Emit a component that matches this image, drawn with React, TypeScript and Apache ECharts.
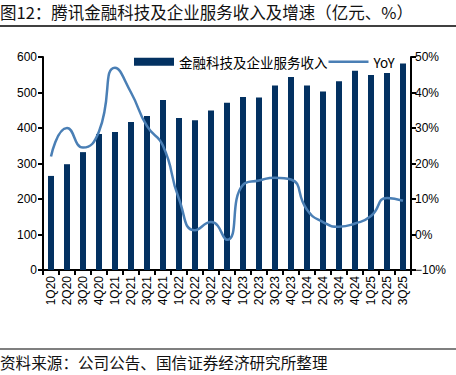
import React, { useEffect, useRef } from "react";
import * as echarts from "echarts";

const categories = ["1Q20","2Q20","3Q20","4Q20","1Q21","2Q21","3Q21","4Q21","1Q22","2Q22","3Q22","4Q22","1Q23","2Q23","3Q23","4Q23","1Q24","2Q24","3Q24","4Q24","1Q25","2Q25","3Q25"];
const revenue = [265, 298, 332, 383, 389, 417, 434, 479, 428, 422, 449, 471, 487, 486, 520, 544, 520, 503, 532, 561, 549, 555, 582];
const yoy = [22, 30, 24.5, 29, 47, 40, 30.5, 25, 10, 1.2, 3.5, -1.5, 14, 15.2, 16, 15.5, 7, 3.5, 2.2, 3.1, 5.2, 10.3, 9.5];
const leftTicks = [0, 600, 100];
const rightTicks = [-10, 50, 10];

const titleText = "图12：腾讯金融科技及企业服务收入及增速（亿元、%）";
const sourceText = "资料来源：公司公告、国信证券经济研究所整理";
const barName = "金融科技及企业服务收入";
const lineName = "YoY";

export default function App() {
  const ref = useRef<HTMLDivElement>(null);
  useEffect(() => {
    if (!ref.current) return;
    const chart = echarts.init(ref.current, null, { renderer: "svg" });
    const font = "Arial, 'Liberation Sans', 'Noto Sans CJK SC', sans-serif";
    const cjk = "'Noto Sans CJK SC', sans-serif";
    chart.setOption({
      animation: false,
      backgroundColor: "#fff",
      textStyle: { fontFamily: font },
      grid: { left: 43, right: 45, top: 57, bottom: 105 },
      legend: {
        left: 129,
        top: 50,
        itemWidth: 40,
        itemHeight: 8,
        itemGap: 1,
        textStyle: { fontSize: 13.5, color: "#000", fontFamily: cjk },
        data: [
          { name: barName, icon: "rect" },
          { name: lineName, icon: "path://M0 0 H40 V2.5 H0 Z", itemStyle: { color: "#4a7fb5" } },
        ],
      },
      xAxis: {
        type: "category",
        data: categories,
        boundaryGap: true,
        axisLine: { lineStyle: { color: "#000", width: 2 } },
        axisTick: { show: true, length: 5, lineStyle: { color: "#000", width: 2 } },
        axisLabel: { rotate: 90, fontSize: 12, color: "#000", interval: 0, margin: 6 },
      },
      yAxis: [
        {
          type: "value",
          min: leftTicks[0],
          max: leftTicks[1],
          interval: leftTicks[2],
          splitLine: { show: false },
          axisLine: { show: true, lineStyle: { color: "#000", width: 2 } },
          axisTick: { show: true, length: 5, lineStyle: { color: "#000", width: 2 } },
          axisLabel: { fontSize: 12, color: "#000", margin: 6 },
        },
        {
          type: "value",
          min: rightTicks[0],
          max: rightTicks[1],
          interval: rightTicks[2],
          position: "right",
          splitLine: { show: false },
          axisLine: { show: true, lineStyle: { color: "#000", width: 2 } },
          axisTick: { show: true, length: 5, lineStyle: { color: "#000", width: 2 } },
          axisLabel: { fontSize: 12, color: "#000", margin: 4, formatter: (v: number) => (v < 0 ? "\u2212" + Math.abs(v) : v) + "%" },
        },
      ],
      series: [
        {
          name: barName,
          type: "bar",
          data: revenue,
          barWidth: 6,
          itemStyle: { color: "#033161" },
        },
        {
          name: lineName,
          type: "line",
          yAxisIndex: 1,
          data: yoy,
          smooth: 0.55,
          symbol: "none",
          lineStyle: { color: "#4a7fb5", width: 2.5 },
          itemStyle: { color: "#4a7fb5" },
        },
      ],
      graphic: [
        { type: "text", left: 0, top: 4, style: { text: titleText, fontSize: 16.5, fill: "#111", fontFamily: cjk } },
        { type: "line", shape: { x1: 0, y1: 26, x2: 456, y2: 26 }, style: { stroke: "#000", lineWidth: 1.5 } },
        { type: "line", shape: { x1: 0, y1: 349, x2: 456, y2: 349 }, style: { stroke: "#000", lineWidth: 1.2 } },
        { type: "text", left: 0, top: 354, style: { text: sourceText, fontSize: 15.6, fill: "#111", fontFamily: cjk } },
      ],
    });
    return () => chart.dispose();
  }, []);
  return <div ref={ref} style={{ position: "fixed", left: 0, top: 0, width: 456, height: 375 }} />;
}
